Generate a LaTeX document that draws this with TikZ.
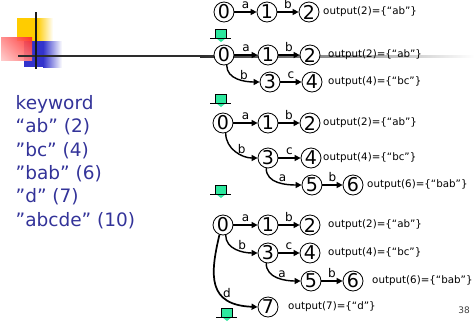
\documentclass[tikz,border=0pt]{standalone}
\usepackage{fontspec}
\setmainfont{DejaVu Sans}
\usetikzlibrary{arrows.meta,shadings}
\definecolor{kwblue}{RGB}{51,51,153}
\definecolor{icongreen}{RGB}{45,232,158}
\definecolor{sqyellow}{RGB}{255,204,0}
\definecolor{sqblue}{RGB}{51,51,204}
\definecolor{sqred}{RGB}{255,40,40}
\definecolor{rulegray}{RGB}{45,45,45}

% small "next step" marker: green box with a down arrow on a base line
\newcommand\greendrop[2]{%
  \fill[icongreen] (#1-5.5,-#2) rectangle (#1+5.5,-#2-9);
  \fill[icongreen] (#1-5,-#2-9) -- (#1+5,-#2-9) -- (#1,-#2-13) -- cycle;
  \draw[line width=0.8pt] (#1-5.5,-#2-9) -- (#1-5.5,-#2) -- (#1+5.5,-#2) -- (#1+5.5,-#2-9);
  \draw[line width=1pt] (#1-11,-#2-9) -- (#1+10,-#2-9);
}

\begin{document}
\begin{tikzpicture}[x=1pt,y=1pt,
  st/.style={circle,draw,line width=0.8pt,fill=white,minimum size=20pt,inner sep=0pt,
             font=\fontsize{19}{19}\selectfont},
  edge/.style={line width=1.7pt,-{Triangle[length=6pt,width=6pt]}},
  cedge/.style={line width=1.4pt,-{Triangle[length=6pt,width=6pt]}},
  lab/.style={font=\fontsize{12}{12}\selectfont,inner sep=0pt,above=2.2pt},
  clab/.style={font=\fontsize{12}{12}\selectfont,inner sep=0pt,above=0.8pt},
  outtext/.style={anchor=west,inner sep=0pt,font=\fontsize{10.3}{10.3}\selectfont},
  kw/.style={anchor=base west,inner sep=0pt,text=kwblue,font=\fontsize{18.5}{18.5}\selectfont}
]
\useasboundingbox (0,0) rectangle (474,-322);

% corner decoration
\fill[sqyellow] (17,-18) rectangle (37,-41);
\shade[left color=sqyellow,right color=white] (37,-18) rectangle (53,-41);
\fill[sqblue] (24,-41) rectangle (43,-67);
\shade[left color=sqblue,right color=white] (43,-41) rectangle (62,-67);
\shade[opacity=0.92,upper right=sqred,upper left=sqred!55!white,
       lower right=sqred!65!white,lower left=sqred!25!white] (1,-37) rectangle (32,-60);
\fill[rulegray] (18,-55) rectangle (200,-57);
\shade[left color=rulegray,right color=white] (200,-55) rectangle (474,-57);
\fill[black!90] (35,-12) rectangle (37.2,-69);

% keyword list
\node[kw] (k0) at (15.5,-109.3) {keyword};
\node[kw] (k1) at (15.5,-132.7) {“ab” (2)};
\node[kw] (k2) at (15.5,-156) {”bc” (4)};
\node[kw] (k3) at (15.5,-179.3) {”bab” (6)};
\node[kw] (k4) at (15.5,-202.7) {”d” (7)};
\node[kw] (k5) at (15.5,-226) {”abcde” (10)};

% trie after "ab"
\node[st] (a0) at (224,-12) {0};
\node[st] (a1) at (267,-12) {1};
\node[st] (a2) at (309,-12) {2};
\draw[edge] (a0) -- node[lab]{a} (a1);
\draw[edge] (a1) -- node[lab]{b} (a2);
\node[outtext] (ao2) at (323,-12) {output(2)=\{“ab”\}};
\greendrop{221}{29}

% trie after "bc"
\node[st] (b0) at (224,-55) {0};
\node[st] (b1) at (268,-55) {1};
\node[st] (b2) at (310,-55) {2};
\node[st] (b3) at (270,-82) {3};
\node[st] (b4) at (312,-82) {4};
\draw[edge] (b0) -- node[lab]{a} (b1);
\draw[edge] (b1) -- node[lab]{b} (b2);
\draw[cedge] (b0.-75) to[out=-90,in=180] node[clab,pos=0.65]{b} (b3.west);
\draw[edge] (b3) -- node[lab]{c} (b4);
\node[outtext] (bo2) at (328,-55) {output(2)=\{“ab”\}};
\node[outtext] (bo4) at (328,-82) {output(4)=\{“bc”\}};
\greendrop{221}{94}

% trie after "bab"
\node[st] (c0) at (223,-123) {0};
\node[st] (c1) at (268,-123) {1};
\node[st] (c2) at (310,-123) {2};
\node[st] (c3) at (268,-158) {3};
\node[st] (c4) at (311,-158) {4};
\node[st] (c5) at (312,-185) {5};
\node[st] (c6) at (353,-185) {6};
\draw[edge] (c0) -- node[lab]{a} (c1);
\draw[edge] (c1) -- node[lab]{b} (c2);
\draw[cedge] (c0.-75) to[out=-90,in=180] node[clab,pos=0.65]{b} (c3.west);
\draw[edge] (c3) -- node[lab]{c} (c4);
\draw[cedge] (c3.-100) to[out=-90,in=180] node[clab,pos=0.6]{a} (c5.west);
\draw[edge] (c5) -- node[lab]{b} (c6);
\node[outtext] (co2) at (323,-123) {output(2)=\{“ab”\}};
\node[outtext] (co4) at (323,-158) {output(4)=\{“bc”\}};
\node[outtext] (co6) at (367,-185) {output(6)=\{“bab”\}};
\greendrop{221}{185}

% trie after "d"
\node[st] (d0) at (223,-225) {0};
\node[st] (d1) at (268,-225) {1};
\node[st] (d2) at (310,-225) {2};
\node[st] (d3) at (268,-253) {3};
\node[st] (d4) at (310,-253) {4};
\node[st] (d5) at (311,-281) {5};
\node[st] (d6) at (353,-281) {6};
\node[st] (d7) at (268,-307) {7};
\draw[edge] (d0) -- node[lab]{a} (d1);
\draw[edge] (d1) -- node[lab]{b} (d2);
\draw[cedge] (d0.-75) to[out=-90,in=180] node[clab,pos=0.65]{b} (d3.west);
\draw[edge] (d3) -- node[lab]{c} (d4);
\draw[cedge] (d3.-100) to[out=-90,in=180] node[clab,pos=0.6]{a} (d5.west);
\draw[edge] (d5) -- node[lab]{b} (d6);
\draw[edge] (d0.-110) .. controls +(-9.6,-40.6) and +(-50,2) .. node[clab,pos=0.72]{d} (d7.west);
\node[outtext] (do2) at (328,-225) {output(2)=\{“ab”\}};
\node[outtext] (do4) at (328,-253) {output(4)=\{“bc”\}};
\node[outtext] (do6) at (372,-281) {output(6)=\{“bab”\}};
\node[outtext] (do7) at (288,-307) {output(7)=\{“d”\}};
\greendrop{227}{308}

% page number
\node[inner sep=0pt,text=black!75,font=\fontsize{9}{9}\selectfont] (pg) at (464,-310) {38};
\end{tikzpicture}
\end{document}
